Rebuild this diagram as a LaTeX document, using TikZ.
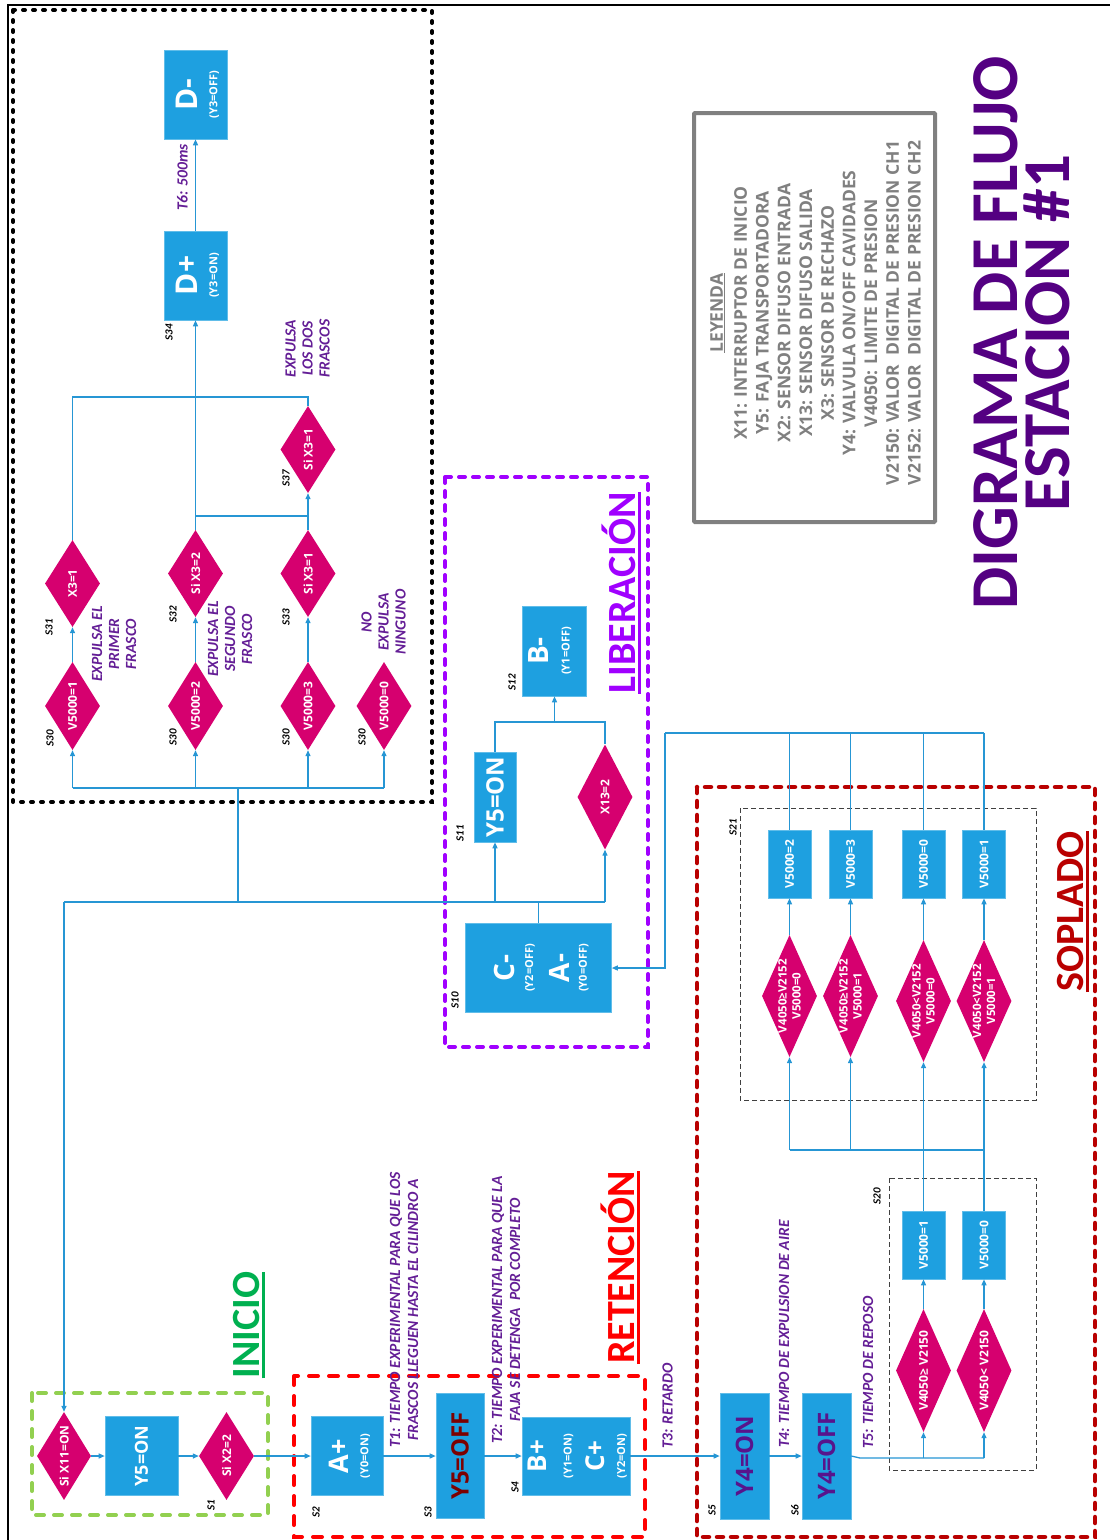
\documentclass[tikz,border=0pt]{standalone}
\usepackage{fontspec}
\setmainfont{Carlito}
\newfontfamily\osans{Open Sans}
\usetikzlibrary{shapes.geometric,arrows.meta}
\definecolor{bxc}{RGB}{30,160,224}
\definecolor{dmc}{RGB}{214,0,111}
\definecolor{lnc}{RGB}{38,150,212}
\definecolor{ntc}{RGB}{100,30,150}
\definecolor{ttc}{RGB}{84,0,130}
\definecolor{lbc}{RGB}{160,0,255}
\definecolor{spc}{RGB}{185,0,0}
\definecolor{rtc}{RGB}{255,0,0}
\definecolor{inc}{RGB}{0,176,80}
\definecolor{gnb}{RGB}{146,208,80}
\definecolor{gry}{RGB}{128,128,128}
\definecolor{dred}{RGB}{125,0,0}
\definecolor{dpur}{RGB}{88,20,140}
\begin{document}
\begin{tikzpicture}[x=1pt,y=-1pt,
  bx/.style={draw=bxc!70!white, fill=bxc, line width=0.6pt, inner sep=0pt},
  dm/.style={diamond, fill=dmc, inner sep=0pt},
  wt/.style={rotate=90, text=white, inner sep=0pt, align=center, font=\osans\bfseries\fontsize{12}{13}\selectfont},
  wt2/.style={wt, font=\osans\bfseries\fontsize{11.5}{14}\selectfont},
  big/.style={rotate=90, inner sep=0pt, text=white, font=\osans\bfseries\fontsize{24}{24}\selectfont},
  two/.style={rotate=90, inner sep=0pt, text=white, align=center, font=\osans\bfseries\fontsize{11}{#1}\selectfont},
  ln/.style={draw=lnc, line width=1.3pt},
  arr/.style={ln, -{Triangle[length=6pt,width=5pt]}},
  sl/.style={rotate=90, inner sep=0pt, font=\bfseries\itshape\fontsize{11}{12}\selectfont},
  nt/.style={rotate=90, inner sep=0pt, align=center, text=ntc, font=\bfseries\itshape\fontsize{15.5}{17}\selectfont},
  sect/.style={rotate=90, inner sep=0pt, anchor=south, font=\bfseries\fontsize{40}{40}\selectfont},
  thd/.style={draw=black!75, line width=1pt, dash pattern=on 5pt off 3pt},
  grp/.style={line width=4pt, line cap=round},
]
\useasboundingbox (0,0) rectangle (1110,1540);
\fill[white] (0,0) rectangle (1110,1540);

% page frame
\draw[line width=2pt] (8,1545) -- (8,5) -- (1115,5);

% group frames
\draw[grp, black, dash pattern=on 2pt off 8pt] (13,10) rectangle (432,802);
\draw[grp, gnb, dash pattern=on 8pt off 10pt] (32,1393) rectangle (268,1515);
\draw[grp, rtc, dash pattern=on 9pt off 11pt] (294,1376) rectangle (645,1537);
\draw[grp, spc, dash pattern=on 6pt off 8pt, line width=4.5pt] (697,787) rectangle (1095,1537);
\draw[grp, lbc, dash pattern=on 6pt off 8pt] (445,477) rectangle (648,1047);
\draw[thd] (889,1178) rectangle (1036,1470);
\draw[thd] (740,808) rectangle (1036,1100);

% ---------- INICIO ----------
\node[dm, minimum width=54, minimum height=88] (d11) at (64,1456) {};
\node[wt] (d11t) at (d11.center) {Si X11=ON};
\node[bx, minimum width=73, minimum height=79] (y5a) at (141.5,1456) {};
\node[big, font=\osans\bfseries\fontsize{18}{18}\selectfont] (y5at) at (y5a.center) {Y5=ON};
\node[dm, minimum width=55, minimum height=88] (dx2) at (226.5,1456) {};
\node[wt] (dx2t) at (dx2.center) {Si X2=2};

% ---------- RETENCION ----------
\node[bx, minimum width=72, minimum height=79] (ap) at (347,1456) {};
\node[two=20] (apt) at ([xshift=2.6pt]ap.center) {{\fontsize{27}{27}\selectfont A+}\\(Y0=ON)};
\node[bx, minimum width=48, minimum height=125] (y5off) at (460,1456) {};
\node[big, text=dred] (y5offt) at (y5off.center) {Y5=OFF};
\node[bx, minimum width=108, minimum height=78] (bc) at (576,1456) {};
\node[two=20] (bct) at ([xshift=1.5pt]bc.center)
  {{\fontsize{26}{26}\selectfont B+}\\[5pt](Y1=ON)\\[11pt]{\fontsize{26}{26}\selectfont C+}\\[1pt](Y2=ON)};

% ---------- SOPLADO ----------
\node[bx, minimum width=49, minimum height=126] (y4on) at (744.5,1456) {};
\node[big, text=dpur] (y4ont) at (y4on.center) {Y4=ON};
\node[bx, minimum width=49, minimum height=126] (y4off) at (826.5,1456) {};
\node[big, text=dpur] (y4offt) at (y4off.center) {Y4=OFF};

\node[dm, minimum width=55, minimum height=123] (g1) at (923.5,1370.5) {};
\node[wt] (g1t) at (g1.center) {V4050≥ V2150};
\node[dm, minimum width=55, minimum height=123] (g2) at (984,1370.5) {};
\node[wt] (g2t) at (g2.center) {V4050< V2150};
\node[bx, minimum width=43, minimum height=68] (b20a) at (923.5,1245) {};
\node[wt] (b20at) at (b20a.center) {V5000=1};
\node[bx, minimum width=43, minimum height=68] (b20b) at (984,1245) {};
\node[wt] (b20bt) at (b20b.center) {V5000=0};

\node[dm, minimum width=55, minimum height=122] (h1) at (789.5,996) {};
\node[wt2] (h1t) at (h1.center) {V4050≥V2152\\V5000=0};
\node[dm, minimum width=55, minimum height=122] (h2) at (850.5,996) {};
\node[wt2] (h2t) at (h2.center) {V4050≥V2152\\V5000=1};
\node[dm, minimum width=55, minimum height=122] (h3) at (923.5,1001) {};
\node[wt2] (h3t) at (h3.center) {V4050<V2152\\V5000=0};
\node[dm, minimum width=55, minimum height=122] (h4) at (984,1001) {};
\node[wt2] (h4t) at (h4.center) {V4050<V2152\\V5000=1};

\node[bx, minimum width=43, minimum height=68] (c21a) at (789.5,864) {};
\node[wt] (c21at) at (c21a.center) {V5000=2};
\node[bx, minimum width=43, minimum height=68] (c21b) at (850.5,864) {};
\node[wt] (c21bt) at (c21b.center) {V5000=3};
\node[bx, minimum width=43, minimum height=68] (c21c) at (923.5,864) {};
\node[wt] (c21ct) at (c21c.center) {V5000=0};
\node[bx, minimum width=43, minimum height=68] (c21d) at (984,864) {};
\node[wt] (c21dt) at (c21d.center) {V5000=1};

% ---------- LIBERACION ----------
\node[bx, minimum width=146, minimum height=89] (ca) at (538.5,968) {};
\node[two=18] (cat) at ([xshift=2.8pt]ca.center)
  {{\fontsize{28}{28}\selectfont C-}\\[1pt](Y2=OFF)\\[14pt]{\fontsize{28}{28}\selectfont A-}\\[-1pt](Y0=OFF)};
\node[bx, minimum width=42, minimum height=90] (y5b) at (495,797) {};
\node[big] (y5bt) at (y5b.center) {Y5=ON};
\node[dm, minimum width=55, minimum height=105] (x13) at (605,797) {};
\node[wt] (x13t) at (x13.center) {X13=2};
\node[bx, minimum width=64, minimum height=90] (bm) at (554.5,651) {};
\node[two=21] (bmt) at ([xshift=-4.5pt]bm.center) {{\fontsize{28}{28}\selectfont B-}\\(Y1=OFF)};

% ---------- EXPULSION ----------
\node[dm, minimum width=55, minimum height=88] (e1) at (72.5,706) {};
\node[wt] (e1t) at (e1.center) {V5000=1};
\node[dm, minimum width=55, minimum height=88] (e2) at (195.5,706) {};
\node[wt] (e2t) at (e2.center) {V5000=2};
\node[dm, minimum width=55, minimum height=88] (e3) at (308,706) {};
\node[wt] (e3t) at (e3.center) {V5000=3};
\node[dm, minimum width=55, minimum height=88] (e4) at (384,706) {};
\node[wt] (e4t) at (e4.center) {V5000=0};
\node[dm, minimum width=55, minimum height=87] (f1) at (72.5,583.5) {};
\node[wt] (f1t) at (f1.center) {X3=1};
\node[dm, minimum width=55, minimum height=87] (f2) at (195.5,573.5) {};
\node[wt] (f2t) at (f2.center) {Si X3=2};
\node[dm, minimum width=55, minimum height=87] (f3) at (308,573.5) {};
\node[wt] (f3t) at (f3.center) {Si X3=1};
\node[dm, minimum width=55, minimum height=87] (f4) at (308,449.5) {};
\node[wt] (f4t) at (f4.center) {Si X3=1};
\node[bx, minimum width=63, minimum height=89] (dp) at (195.5,275.5) {};
\node[two=20] (dpt) at ([xshift=2pt]dp.center) {{\fontsize{30}{30}\selectfont D+}\\(Y3=ON)};
\node[bx, minimum width=63, minimum height=89] (dm) at (195.5,94.5) {};
\node[two=20] (dmt) at ([xshift=2pt]dm.center) {{\fontsize{30}{30}\selectfont D-}\\(Y3=OFF)};

% ---------- connectors ----------
\draw[arr] (d11.east) -- (y5a.west);
\draw[arr] (y5a.east) -- (dx2.west);
\draw[arr] (dx2.east) -- (ap.west);
\draw[arr] (ap.east) -- (y5off.west);
\draw[arr] (y5off.east) -- (bc.west);
\draw[arr] (bc.east) -- (y4on.west);
\draw[arr] (y4on.east) -- (y4off.west);

\coordinate (j20) at (860,1458);
\draw[ln] (y4off.east) -- (j20) -- (j20 -| g2.south);
\draw[arr] (j20 -| g1.south) -- (g1.south);
\draw[arr] (j20 -| g2.south) -- (g2.south);
\draw[arr] (g1.north) -- (b20a.south);
\draw[arr] (g2.north) -- (b20b.south);
\draw[arr] (b20a.north) -- (h3.south);
\draw[arr] (b20b.north) -- (h4.south);
\coordinate (j21) at (789.5,1150);
\draw[ln] (j21) -- (j21 -| h4.south);
\draw[arr] (j21) -- (h1.south);
\draw[arr] (j21 -| h2.south) -- (h2.south);
\draw[arr] (h1.north) -- (c21a.south);
\draw[arr] (h2.north) -- (c21b.south);
\draw[arr] (h3.north) -- (c21c.south);
\draw[arr] (h4.north) -- (c21d.south);
\coordinate (j3) at (665,733);
\draw[ln] (j3) -- (j3 -| c21d.north);
\draw[ln] (c21a.north) -- (c21a.north |- j3);
\draw[ln] (c21b.north) -- (c21b.north |- j3);
\draw[ln] (c21c.north) -- (c21c.north |- j3);
\draw[ln] (c21d.north) -- (c21d.north |- j3);
\draw[arr] (j3) |- (ca.east);

\coordinate (j4) at (64,902);
\coordinate (j5) at (238,788);
\draw[ln] (ca.north) -- (ca.north |- j4);
\draw[ln] (j4) -- (x13.south |- j4);
\draw[arr] (j4) -- (d11.north);
\draw[arr] (y5b.south |- j4) -- (y5b.south);
\draw[arr] (x13.south |- j4) -- (x13.south);
\draw[ln] (j5) -- (j5 |- j4);

\coordinate (j6) at (554.5,722);
\draw[ln] (y5b.north) -- (y5b.north |- j6) -- (x13.north |- j6) -- (x13.north);
\draw[arr] (j6) -- (bm.south);

\draw[ln] (e1.south |- j5) -- (e4.south |- j5);
\draw[arr] (e1.south |- j5) -- (e1.south);
\draw[arr] (e2.south |- j5) -- (e2.south);
\draw[arr] (e3.south |- j5) -- (e3.south);
\draw[arr] (e4.south |- j5) -- (e4.south);
\draw[arr] (e1.north) -- (f1.south);
\draw[arr] (e2.north) -- (f2.south);
\draw[arr] (e3.north) -- (f3.south);
\coordinate (j7) at (195.5,516);
\draw[ln] (j7) -- (j7 -| f3.north);
\draw[arr] (f3.north) -- (f4.south);
\coordinate (j8) at (72.5,397);
\draw[ln] (f1.north) -- (f1.north |- j8) -- (f4.north |- j8) -- (f4.north);
\draw[arr] (f2.north) -- (dp.south);
\draw[arr] (dp.north) -- (dm.south);

% ---------- step labels ----------
\node[sl] (s1) at (211,1505) {S1};
\node[sl] (s2) at (316,1512) {S2};
\node[sl] (s3) at (428,1512) {S3};
\node[sl] (s4) at (515,1487) {S4};
\node[sl] (s5) at (712,1510) {S5};
\node[sl] (s6) at (795,1510) {S6};
\node[sl] (s10) at (455,1000) {S10};
\node[sl] (s11) at (460,833) {S11};
\node[sl] (s12) at (512,682) {S12};
\node[sl] (s20) at (877,1196) {S20};
\node[sl] (s21) at (733,827) {S21};
\node[sl] (s30a) at (50,738) {S30};
\node[sl] (s30b) at (173,737) {S30};
\node[sl] (s30c) at (286,737) {S30};
\node[sl] (s30d) at (362,737) {S30};
\node[sl] (s31) at (49,627) {S31};
\node[sl] (s32) at (173,614) {S32};
\node[sl] (s33) at (286,617) {S33};
\node[sl] (s37) at (286,478) {S37};
\node[sl] (s34) at (169,332) {S34};

% ---------- notes ----------
\node[nt, font=\bfseries\itshape\fontsize{15.5}{18}\selectfont] (n1) at (404,1310)
  {T1: TIEMPO EXPERIMENTAL PARA QUE LOS\\FRASCOS LLEGUEN HASTA EL CILINDRO A};
\node[nt, font=\bfseries\itshape\fontsize{15.5}{18}\selectfont] (n2) at (506,1310)
  {T2: TIEMPO EXPERIMENTAL PARA QUE LA\\FAJA SE DETENGA\ \ POR COMPLETO};
\node[nt] (n3) at (667.5,1406) {T3: RETARDO};
\node[nt] (n4) at (784,1334) {T4: TIEMPO DE EXPULSION DE AIRE};
\node[nt] (n5) at (868,1372.5) {T5: TIEMPO DE REPOSO};
\node[nt] (n6) at (182.5,177.5) {T6: 500ms};
\node[nt] (n7) at (114,644) {EXPULSA EL\\PRIMER\\FRASCO};
\node[nt] (n8) at (230,639) {EXPULSA EL\\SEGUNDO\\FRASCO};
\node[nt] (n9) at (383.5,622) {NO\\EXPULSA\\NINGUNO};
\node[nt] (n10) at (307.5,348.5) {EXPULSA\\LOS DOS\\FRASCOS};

% ---------- section titles ----------
\node[sect, text=inc] (tin) at (260,1325) {INICIO};
\draw[inc, line width=3pt] ([xshift=3.5pt]tin.south west) -- ([xshift=3.5pt]tin.south east);
\node[sect, text=rtc] (tre) at (635,1267.5) {RETENCIÓN};
\draw[rtc, line width=3pt] ([xshift=3.5pt]tre.south west) -- ([xshift=3.5pt]tre.south east);
\node[sect, text=spc] (tso) at (1084,911.5) {SOPLADO};
\draw[spc, line width=3pt] ([xshift=3.5pt]tso.south west) -- ([xshift=3.5pt]tso.south east);
\node[sect, text=lbc] (tli) at (636,593) {LIBERACIÓN};
\draw[lbc, line width=3pt] ([xshift=3.5pt]tli.south west) -- ([xshift=3.5pt]tli.south east);

% ---------- legend ----------
\draw[gry, line width=4pt, rounded corners=1pt] (694,113) rectangle (935,522);
\node[rotate=90, anchor=south, inner sep=0pt, align=center, text=gry,
      font=\osans\bfseries\fontsize{17.5}{21.7}\selectfont] (leg) at (921,313)
  {\underline{LEYENDA}\\[2.3pt]
   X11: INTERRUPTOR DE INICIO\\
   Y5: FAJA TRANSPORTADORA\\
   X2: SENSOR DIFUSO ENTRADA\\
   X13: SENSOR DIFUSO SALIDA\\
   X3: SENSOR DE RECHAZO\\
   Y4: VALVULA ON/OFF CAVIDADES\\
   V4050: LIMITE DE PRESION\\
   V2150: VALOR\ \ DIGITAL DE PRESION CH1\\
   V2152: VALOR\ \ DIGITAL DE PRESION CH2};

% ---------- title ----------
\node[rotate=90, anchor=south, inner sep=0pt, align=center, text=ttc,
      font=\bfseries\fontsize{67}{52}\selectfont] (title) at (1070,333)
  {DIGRAMA DE FLUJO\\ESTACION \#1};
\end{tikzpicture}
\end{document}
